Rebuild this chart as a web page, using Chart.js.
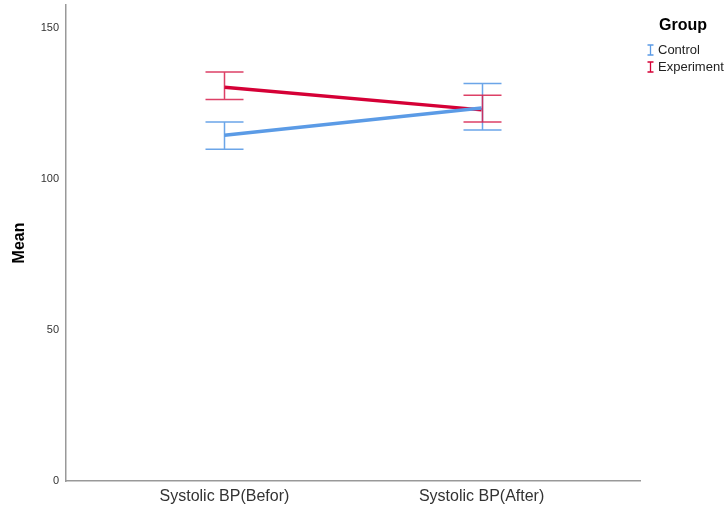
<!DOCTYPE html>
<html>
<head>
<meta charset="utf-8">
<script src="https://cdn.jsdelivr.net/npm/chart.js@4"></script>
<style>
    html,body{margin:0; padding:0; background:#fff;}
    #wrap{width:724px; height:509px;}
</style>
</head>
<body>
<div id="wrap"><canvas id="myChart" width="724" height="509"></canvas></div>
<script>
    var categories = ['Systolic BP(Befor)', 'Systolic BP(After)'];
    var groups = ['Control', 'Experiment'];
    var controlMean = [114.4, 123.4];
    var controlLow = [109.8, 116.1];
    var controlHigh = [118.8, 131.5];
    var expMean = [130.3, 122.8];
    var expLow = [126.2, 118.8];
    var expHigh = [135.3, 127.6];
    var yTicks = [0, 50, 100, 150];

    var lineColors = ['#5b9be6', '#d50036'];
    var barColors = ['rgba(91,155,230,0.9)', 'rgba(215,30,75,0.85)'];
    var lows = [controlLow, expLow];
    var highs = [controlHigh, expHigh];

    function toPoints(arr){
        var pts = [];
        for(var i = 0; i < arr.length; i++){
            pts.push({x: i, y: arr[i]});
        }
        return pts;
    }

    // error bars drawn over the lines, through the chart scales
    var errorBars = {
        id: 'errorBars',
        afterDatasetsDraw: function(chart){
            var ctx = chart.ctx;
            var xs = chart.scales.x, ys = chart.scales.y;
            ctx.save();
            for(var d = 0; d < lows.length; d++){
                ctx.strokeStyle = barColors[d];
                ctx.lineWidth = 1.5;
                for(var i = 0; i < lows[d].length; i++){
                    var px = Math.round(xs.getPixelForValue(i)) + 0.5;
                    var top = ys.getPixelForValue(highs[d][i]);
                    var bot = ys.getPixelForValue(lows[d][i]);
                    ctx.beginPath();
                    ctx.moveTo(px, top); ctx.lineTo(px, bot);
                    ctx.moveTo(px - 19, top); ctx.lineTo(px + 19, top);
                    ctx.moveTo(px - 19, bot); ctx.lineTo(px + 19, bot);
                    ctx.stroke();
                }
            }
            ctx.restore();
        }
    };

    // SPSS style legend on the right
    var sideLegend = {
        id: 'sideLegend',
        afterDraw: function(chart){
            var ctx = chart.ctx;
            ctx.save();
            ctx.fillStyle = '#000';
            ctx.font = 'bold 16px "Liberation Sans", Arial, sans-serif';
            ctx.textBaseline = 'middle';
            ctx.fillText('Group', 659, 26);
            ctx.font = '13px "Liberation Sans", Arial, sans-serif';
            for(var i = 0; i < groups.length; i++){
                var cy = 50 + i * 17;
                ctx.strokeStyle = lineColors[i];
                ctx.lineWidth = 1.3;
                ctx.beginPath();
                ctx.moveTo(650.5, cy - 5); ctx.lineTo(650.5, cy + 5);
                ctx.moveTo(647.5, cy - 5); ctx.lineTo(653.5, cy - 5);
                ctx.moveTo(647.5, cy + 5); ctx.lineTo(653.5, cy + 5);
                ctx.stroke();
                ctx.fillStyle = '#222';
                ctx.fillText(groups[i], 658, cy + 0.5);
            }
            ctx.restore();
        }
    };

    var chart = new Chart(document.getElementById('myChart').getContext('2d'), {
        type: 'line',
        data: {
            datasets: [
                {label: groups[0], data: toPoints(controlMean), borderColor: lineColors[0], borderWidth: 3.5, pointRadius: 0, fill: false},
                {label: groups[1], data: toPoints(expMean), borderColor: lineColors[1], borderWidth: 3.5, pointRadius: 0, fill: false}
            ]
        },
        options: {
            responsive: false,
            animation: false,
            layout: {padding: {top: 5, right: 84, left: 0, bottom: 0}},
            plugins: {legend: {display: false}, tooltip: {enabled: false}},
            scales: {
                x: {
                    type: 'linear',
                    min: -0.616,
                    max: 1.616,
                    afterBuildTicks: function(s){ s.ticks = [{value: 0}, {value: 1}]; },
                    afterFit: function(s){ s.height = 28; s.paddingLeft = 0; s.paddingRight = 0; },
                    grid: {display: false, drawTicks: false},
                    border: {color: '#999', width: 1.5},
                    ticks: {
                        padding: 6,
                        color: '#333',
                        font: {family: '"Liberation Sans", Arial, sans-serif', size: 16},
                        callback: function(v){ return categories[v]; }
                    }
                },
                y: {
                    min: 0,
                    max: 157.5,
                    afterBuildTicks: function(s){ s.ticks = yTicks.map(function(v){ return {value: v}; }); },
                    afterFit: function(s){ s.width = 66; s.paddingTop = 0; s.paddingBottom = 0; },
                    grid: {display: false, drawTicks: false},
                    border: {color: '#999', width: 1.5},
                    ticks: {
                        padding: 7,
                        color: '#333',
                        font: {family: '"Liberation Sans", Arial, sans-serif', size: 11}
                    },
                    title: {
                        display: true,
                        text: 'Mean',
                        color: '#000',
                        padding: {top: 10, bottom: 0},
                        font: {family: '"Liberation Sans", Arial, sans-serif', size: 16, weight: 'bold'}
                    }
                }
            }
        },
        plugins: [errorBars, sideLegend]
    });
</script>
</body>
</html>
